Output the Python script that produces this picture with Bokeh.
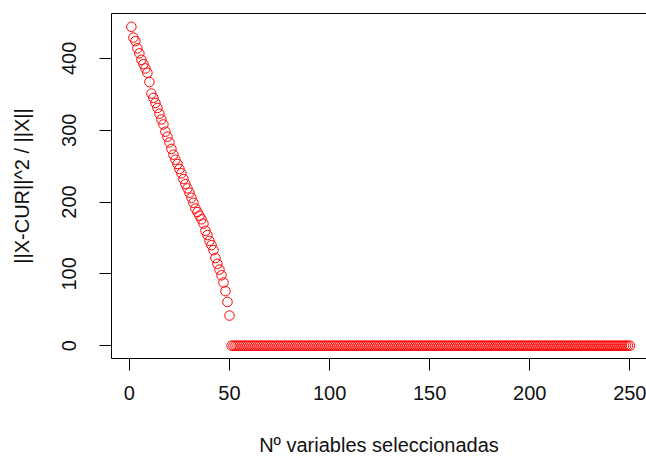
from bokeh.plotting import figure
from bokeh.models import FixedTicker, LinearAxis, Range1d
from bokeh.embed import file_html
from bokeh.resources import INLINE

# Number of selected variables and the relative reconstruction error
n_selected = list(range(1, 251))
error_first50 = [444, 429, 424, 414, 407, 398, 392, 386, 380, 367,
                 351, 345, 338, 331, 323, 315, 308, 298, 291, 283,
                 274, 266, 259, 253, 246, 240, 232, 225, 219, 213,
                 206, 199, 191, 186, 181, 176, 170, 160, 154, 146,
                 140, 133, 122, 114, 106, 98, 88, 76, 61, 42]
error_rest = [0] * 200
rel_error = error_first50 + error_rest

x_ticks = [0, 50, 100, 150, 200, 250]
y_ticks = [0, 100, 200, 300, 400]

FONT = "Liberation Sans"

p = figure(width=646, height=458, output_backend="svg", toolbar_location=None,
           x_range=Range1d(-8.94, 258.3), y_range=Range1d(-17.8, 462.5),
           min_border_left=111, min_border_right=0, min_border_top=13,
           min_border_bottom=99, x_axis_location=None, y_axis_location=None)
p.grid.visible = False
p.outline_line_color = None
p.background_fill_color = "white"
p.border_fill_color = "white"

xaxis = LinearAxis(ticker=FixedTicker(ticks=x_ticks),
                   axis_label="Nº variables seleccionadas")
yaxis = LinearAxis(ticker=FixedTicker(ticks=y_ticks),
                   axis_label="||X-CUR||^2 / ||X||")
for ax in (xaxis, yaxis):
    ax.major_tick_out = 12
    ax.major_tick_in = 0
    ax.minor_tick_out = 0
    ax.minor_tick_in = 0
    ax.axis_line_color = "black"
    ax.major_tick_line_color = "black"
    ax.major_label_text_font = FONT
    ax.major_label_text_font_size = "20px"
    ax.major_label_text_color = "#111111"
    ax.axis_label_text_font = FONT
    ax.axis_label_text_font_size = "20px"
    ax.axis_label_text_font_style = "normal"
    ax.axis_label_text_color = "#111111"
yaxis.major_label_orientation = "vertical"
xaxis.major_label_standoff = 15
xaxis.axis_label_standoff = 31
yaxis.major_label_standoff = 23
yaxis.axis_label_standoff = 27
p.add_layout(xaxis, "below")
p.add_layout(yaxis, "left")

# top border of the plotting region
top = LinearAxis(ticker=FixedTicker(ticks=[]), axis_line_color="black",
                 major_tick_out=0, major_tick_in=0, minor_tick_out=0,
                 minor_tick_in=0, major_label_text_font_size="0px")
p.add_layout(top, "above")

p.scatter(n_selected, rel_error, marker="circle", size=9.5,
          fill_color=None, line_color="red", line_width=1)

open("out.html", "w").write(file_html(p, INLINE))
